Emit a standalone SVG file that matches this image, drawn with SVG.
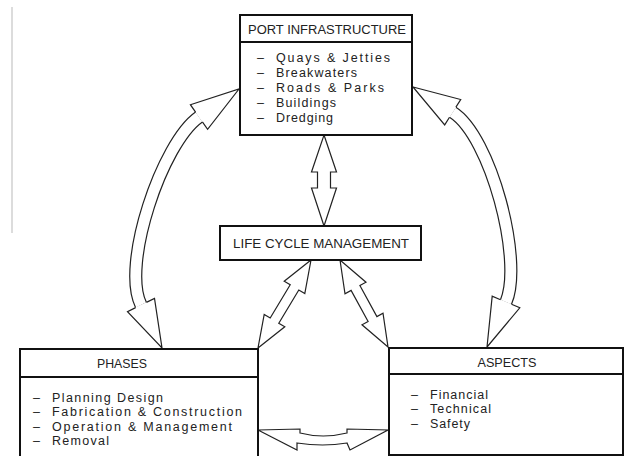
<svg xmlns="http://www.w3.org/2000/svg" width="627" height="456" viewBox="0 0 627 456">
<style>
.box{fill:#fff;stroke:#111;stroke-width:2}
.hdr{stroke:#111;stroke-width:2}
.t{font-family:"Liberation Sans",Arial,sans-serif;font-size:12.5px;fill:#222}
.h{font-family:"Liberation Sans",Arial,sans-serif;font-size:12.5px;fill:#222;text-anchor:middle}
.ar{fill:#fff;stroke:#222;stroke-width:1.2;stroke-linejoin:miter}
.shB{fill:none;stroke:#222;stroke-width:13.2}
.shW{fill:none;stroke:#fff;stroke-width:10.8}
</style>
<line x1="12" y1="7" x2="12" y2="233" stroke="#d0d0d0" stroke-width="1.5"/>
<g id="connectors">
  <g id="arrow-port-phases">
    <path class="shB" d="M199,117 C162,143 121,265 141,305"/>
    <path class="shW" d="M199,117 C162,143 121,265 141,305"/>
    <path class="ar" d="M202.4,121.9 L207.6,129.3 L239,89 L190.4,104.7 L195.6,112.1"/>
    <path class="ar" d="M146.4,302.4 L154.5,298.4 L162,348 L127.5,311.6 L135.6,307.6"/>
  </g>
  <g id="arrow-port-aspects">
    <path class="shB" d="M452.7,112.2 C490.7,136.3 523.5,260.6 506,302"/>
    <path class="shW" d="M452.7,112.2 C490.7,136.3 523.5,260.6 506,302"/>
    <path class="ar" d="M449.5,117.3 L444.7,124.9 L413,87 L460.7,99.5 L455.9,107.1"/>
    <path class="ar" d="M511.5,304.3 L519.8,307.8 L487,347 L492.2,296.2 L500.5,299.7"/>
  </g>
  <path id="arrow-port-lcm" class="ar" d="M324,135 L336.5,172 L330.5,172 L330.5,188 L336.5,188 L324,226 L311.5,188 L317.5,188 L317.5,172 L311.5,172 Z"/>
  <path id="arrow-lcm-phases" class="ar" d="M311,260 L304.8,293.6 L298.8,290 L278.8,323.2 L284.8,326.8 L258,348 L264.2,314.4 L270.2,318 L290.2,284.8 L284.2,281.2 Z"/>
  <path id="arrow-lcm-aspects" class="ar" d="M340,260 L345,293.8 L351.1,290.4 L368.1,321.4 L362,324.8 L388,347 L383,313.2 L376.9,316.6 L359.9,285.6 L366,282.2 Z"/>
  <path id="arrow-phases-aspects" class="ar" d="M258,430 L300,429 L300,433 Q323,439 347,433 L347,429 L388,430 L350,450 L347,443 Q323,447 297,443 L297,450 Z"/>
</g>
<g id="port">
  <rect class="box" x="240" y="15" width="172" height="120"/>
  <line class="hdr" x1="240" y1="42" x2="412" y2="42"/>
  <text class="h" x="327" y="33.5" textLength="158" lengthAdjust="spacingAndGlyphs">PORT INFRASTRUCTURE</text>
  <text class="t" y="61.5"><tspan x="257">–</tspan><tspan x="276" textLength="114">Quays &amp; Jetties</tspan></text>
  <text class="t" y="76.5"><tspan x="257">–</tspan><tspan x="276" textLength="81">Breakwaters</tspan></text>
  <text class="t" y="91.5"><tspan x="257">–</tspan><tspan x="276" textLength="108">Roads &amp; Parks</tspan></text>
  <text class="t" y="106.5"><tspan x="257">–</tspan><tspan x="276" textLength="60">Buildings</tspan></text>
  <text class="t" y="121.5"><tspan x="257">–</tspan><tspan x="276" textLength="57">Dredging</tspan></text>
</g>
<g id="lcm">
  <rect class="box" x="220" y="226" width="201" height="34"/>
  <text class="h" x="321" y="247.5" textLength="176" lengthAdjust="spacingAndGlyphs">LIFE CYCLE MANAGEMENT</text>
</g>
<g id="phases">
  <rect class="box" x="20" y="349" width="238" height="120"/>
  <line class="hdr" x1="20" y1="377" x2="258" y2="377"/>
  <text class="h" x="122" y="367.5" textLength="50" lengthAdjust="spacingAndGlyphs">PHASES</text>
  <text class="t" y="401.5"><tspan x="33">–</tspan><tspan x="52" textLength="111">Planning Design</tspan></text>
  <text class="t" y="416"><tspan x="33">–</tspan><tspan x="52" textLength="190">Fabrication &amp; Construction</tspan></text>
  <text class="t" y="430.5"><tspan x="33">–</tspan><tspan x="52" textLength="180">Operation &amp; Management</tspan></text>
  <text class="t" y="445"><tspan x="33">–</tspan><tspan x="52" textLength="57">Removal</tspan></text>
</g>
<g id="aspects">
  <rect class="box" x="389" y="348" width="234" height="107"/>
  <line class="hdr" x1="389" y1="374" x2="623" y2="374"/>
  <text class="h" x="507" y="366.5" textLength="59" lengthAdjust="spacingAndGlyphs">ASPECTS</text>
  <text class="t" y="398.5"><tspan x="411">–</tspan><tspan x="430" textLength="58">Financial</tspan></text>
  <text class="t" y="412.5"><tspan x="411">–</tspan><tspan x="430" textLength="61">Technical</tspan></text>
  <text class="t" y="427.5"><tspan x="411">–</tspan><tspan x="430" textLength="40">Safety</tspan></text>
</g>
</svg>
